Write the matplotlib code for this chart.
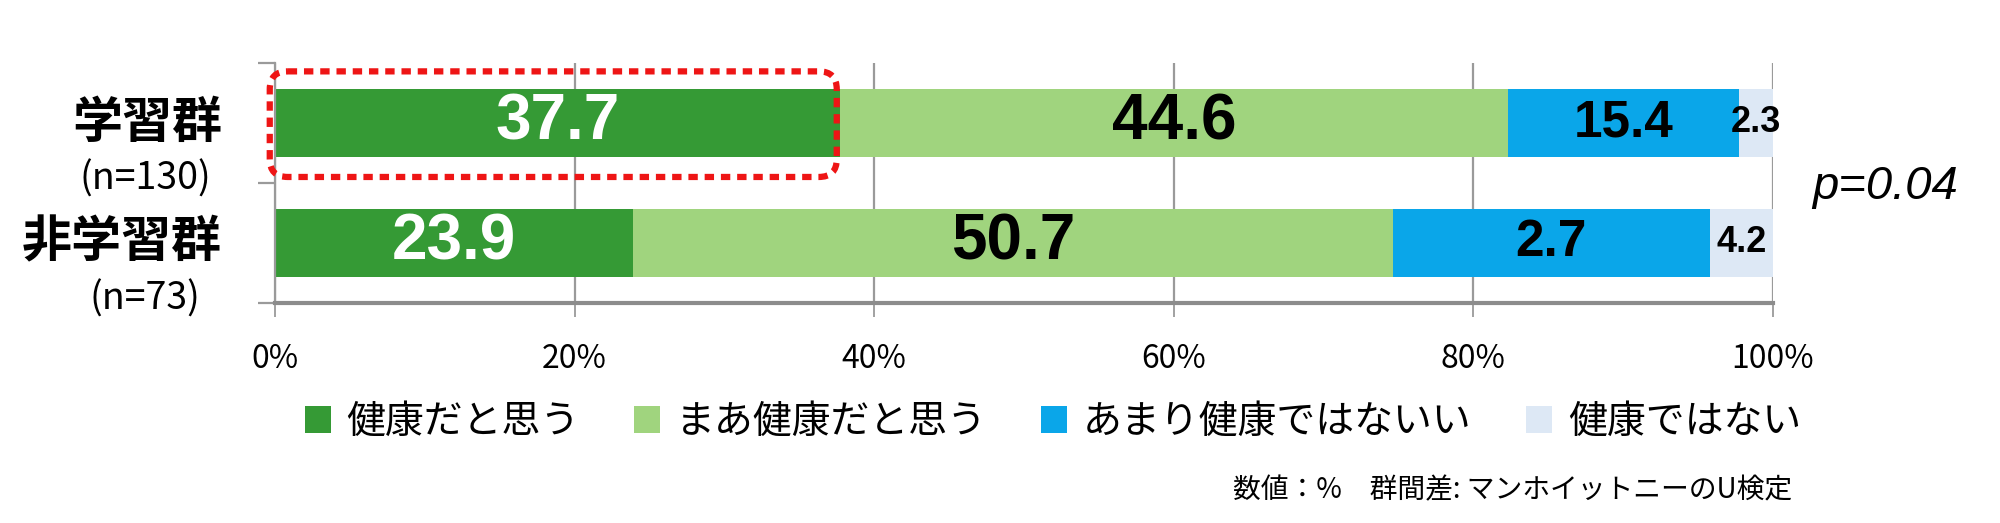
import numpy as np
import matplotlib.pyplot as plt
import matplotlib.transforms as mtransforms
from matplotlib.patches import Patch, FancyBboxPatch

plt.rcParams['font.family'] = ['Noto Sans CJK JP', 'DejaVu Sans']

# data
groups = ['学習群', '非学習群']
group_n = ['(n=130)', '(n=73)']
categories = ['健康だと思う', 'まあ健康だと思う', 'あまり健康ではないい', '健康ではない']
learn = [37.7, 44.6, 15.4, 2.3]
nonlearn = [23.9, 50.7, 21.2, 4.2]
# labels as printed on the bars (the original prints 2.7 on the 21.2 segment)
learn_labels = ['37.7', '44.6', '15.4', '2.3']
nonlearn_labels = ['23.9', '50.7', '2.7', '4.2']
xticks = [0, 20, 40, 60, 80, 100]

colors = ['#359a35', '#a0d47e', '#0aa6e9', '#dde8f5']
label_colors = ['white', 'black', 'black', 'black']
label_sizes = [46, 46, 37, 26]
num_font = ['Liberation Sans Narrow', 'Liberation Sans', 'DejaVu Sans']

fig = plt.figure(figsize=(20, 5.23), dpi=100)
ax = fig.add_axes([0.1375, 0.4207, 0.749, 0.4589])

values = np.array([learn, nonlearn])
labels = [learn_labels, nonlearn_labels]
y = np.arange(len(groups))
left = np.zeros(len(groups))
for j in range(len(categories)):
    ax.barh(y, values[:, j], left=left, height=0.57, color=colors[j], zorder=2)
    for i in range(len(groups)):
        ax.text(left[i] + values[i, j] / 2, y[i], labels[i][j], ha='center', va='center',
                color=label_colors[j], fontsize=label_sizes[j], fontweight='bold',
                family=num_font, zorder=4)
    left += values[:, j]

ax.set_xlim(0, 100)
ax.set_ylim(1.5, -0.5)
ax.set_xticks(xticks)
ax.set_xticklabels([f'{v}%' for v in xticks], fontsize=23)
ax.set_yticks([-0.5, 0.5, 1.5])
ax.set_yticklabels([])
ax.xaxis.grid(True, color='#9a9a9a', lw=1.6, zorder=0)
ax.set_axisbelow(True)
ax.tick_params(axis='x', length=10, width=1.3, color='#9a9a9a', pad=19)
ax.tick_params(axis='y', length=12, width=1.6, color='#9a9a9a')
for s in ['top', 'right']:
    ax.spines[s].set_visible(False)
ax.spines['left'].set_color('#9a9a9a')
ax.spines['left'].set_linewidth(1.6)
ax.spines['bottom'].set_color('#8c8c8c')
ax.spines['bottom'].set_linewidth(3)

# group labels on the left
trans = mtransforms.blended_transform_factory(fig.transFigure, ax.transData)
for i in range(len(groups)):
    fig.text(0.111, y[i], groups[i], transform=trans, ha='right', va='center',
             fontsize=36, fontweight='bold')
    fig.text(0.0725, y[i] + 0.47, group_n[i], transform=trans, ha='center', va='center',
             fontsize=27)

# red dotted highlight around first segment
box = FancyBboxPatch((-0.35, -0.43), learn[0] - 0.2 + 0.35, 0.88,
                     boxstyle='round,pad=0,rounding_size=1.2', mutation_aspect=0.124,
                     facecolor='none', edgecolor='#ee1515', lw=4.5,
                     linestyle=(0, (1.5, 1.1)), clip_on=False, zorder=5)
ax.add_patch(box)

fig.text(0.9425, 1 - 187 / 523, 'p=0.04', ha='center', va='center', fontsize=34,
         style='italic', family=['Liberation Sans', 'DejaVu Sans'])

handles = [Patch(facecolor=c, label=l) for c, l in zip(colors, categories)]
fig.legend(handles=handles, loc='center', bbox_to_anchor=(0.5265, 1 - 422 / 523), ncol=4,
           frameon=False, fontsize=28, handlelength=0.67, handleheight=0.67,
           handletextpad=0.4, columnspacing=1.4)

fig.text(0.896, 1 - 490 / 523, '数値：%　群間差: マンホイットニーのU検定', ha='right', va='center',
         fontsize=20)

fig.savefig('out.png', dpi=100)
